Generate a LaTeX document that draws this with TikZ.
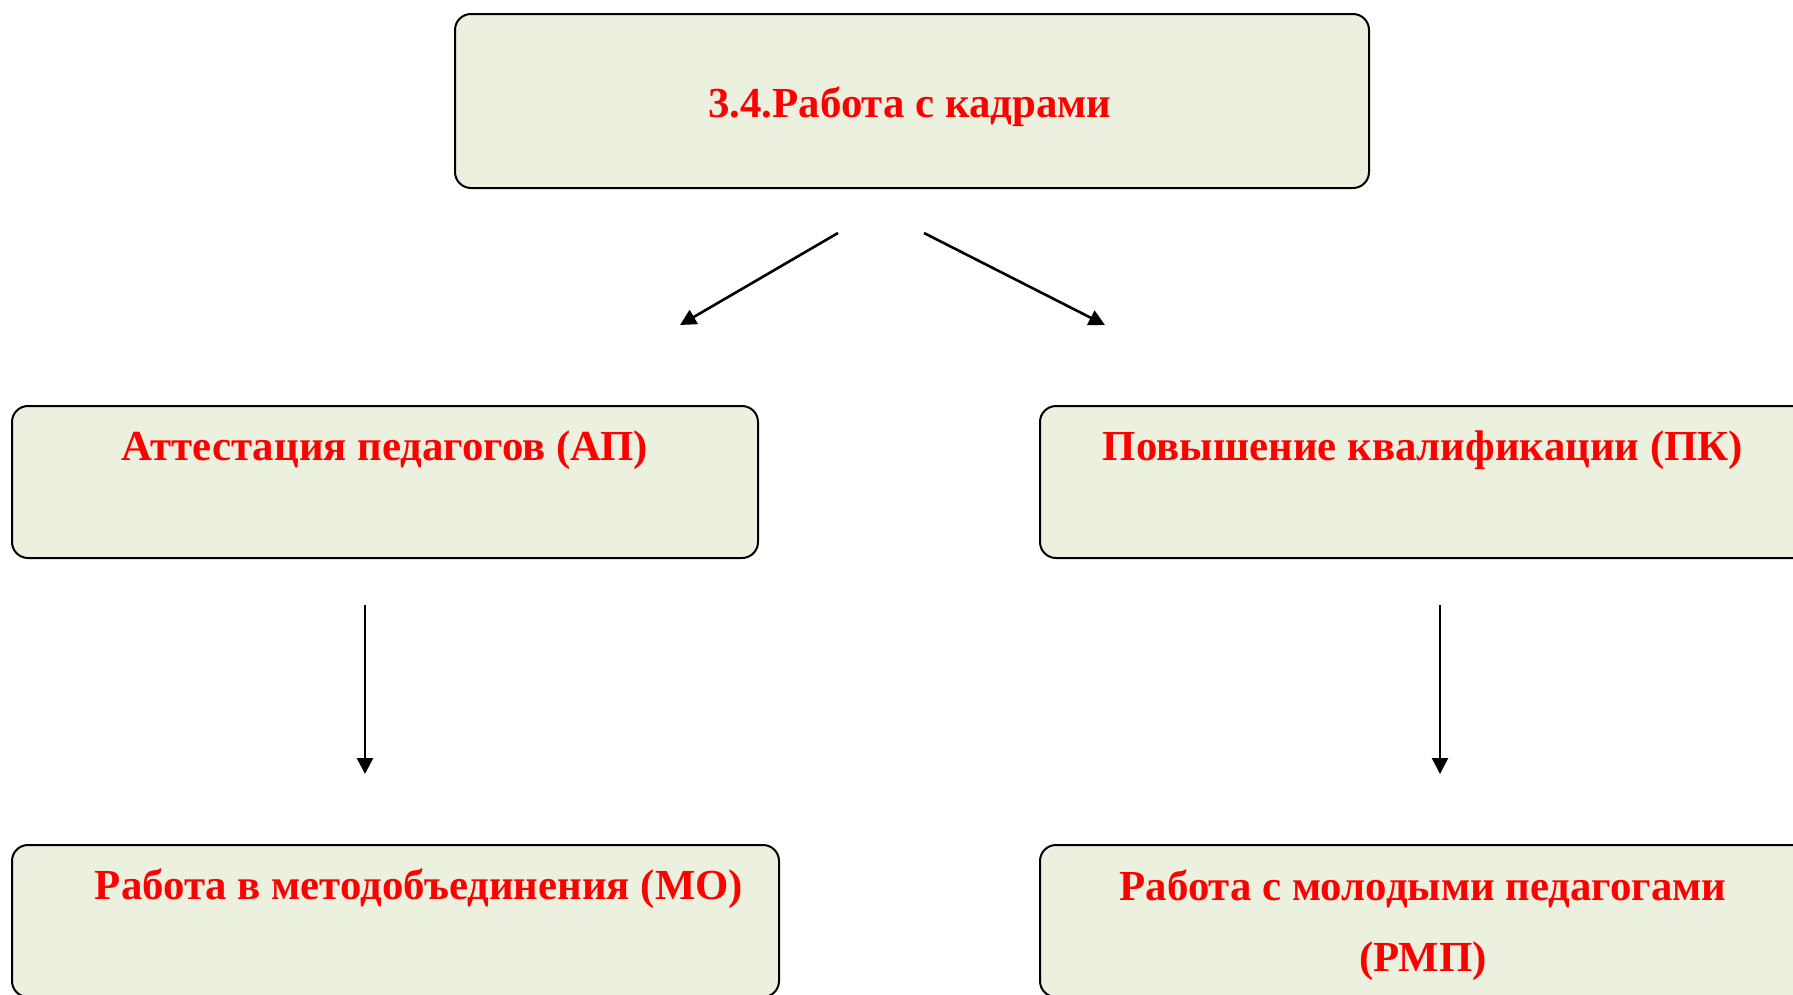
\documentclass[tikz,border=0pt]{standalone}
\usepackage{fontspec}
\setmainfont{Liberation Serif}
\usetikzlibrary{arrows.meta}
\definecolor{boxfill}{HTML}{EBF1DE}
\definecolor{txtred}{HTML}{FF0000}
\begin{document}
\begin{tikzpicture}[x=1bp,y=-1bp,
  box/.style={draw=black,line width=2bp,fill=boxfill,rounded corners=16bp,anchor=north west,inner sep=0pt},
  lbl/.style={text=txtred,font=\fontsize{43}{50}\selectfont\bfseries,inner sep=0pt,anchor=center},
  arr/.style={line width=2.6bp,-{Triangle[length=16bp,width=16bp]}}]
\useasboundingbox (0,0) rectangle (1793,994);
\clip (0,0) rectangle (1793,994);
\fill[white] (0,0) rectangle (1793,994);
% boxes
\node[box,minimum width=914bp,minimum height=174bp] (top) at (454,13) {};
\node[box,minimum width=746bp,minimum height=152bp] (ap) at (11,405) {};
\node[box,minimum width=770bp,minimum height=152bp] (pk) at (1039,405) {};
\node[box,minimum width=767bp,minimum height=152bp] (mo) at (11,844) {};
\node[box,minimum width=770bp,minimum height=152bp] (rmp) at (1039,844) {};
% texts
\node[lbl] (ttop) at (910,107) {3.4.Работа с кадрами};
\node[lbl] (tap) at (385,450) {Аттестация педагогов (АП)};
\node[lbl] (tpk) at (1423,450) {Повышение квалификации (ПК)};
\node[lbl] (tmo) at (419,889) {Работа в методобъединения (МО)};
\node[lbl] (trmp1) at (1423,889) {Работа с молодыми педагогами};
\node[lbl] (trmp2) at (1423,961) {(РМП)};
% arrow ends
\coordinate (a1s) at (838,233);
\coordinate (a1e) at (680,325);
\coordinate (a2s) at (924,233);
\coordinate (a2e) at (1105,325);
\coordinate (a3s) at (365,605);
\coordinate (a3e) at (365,774);
\coordinate (a4s) at (1440,605);
\coordinate (a4e) at (1440,774);
\draw[arr] (a1s) -- (a1e);
\draw[arr] (a2s) -- (a2e);
\draw[arr] (a3s) -- (a3e);
\draw[arr] (a4s) -- (a4e);
\end{tikzpicture}
\end{document}
